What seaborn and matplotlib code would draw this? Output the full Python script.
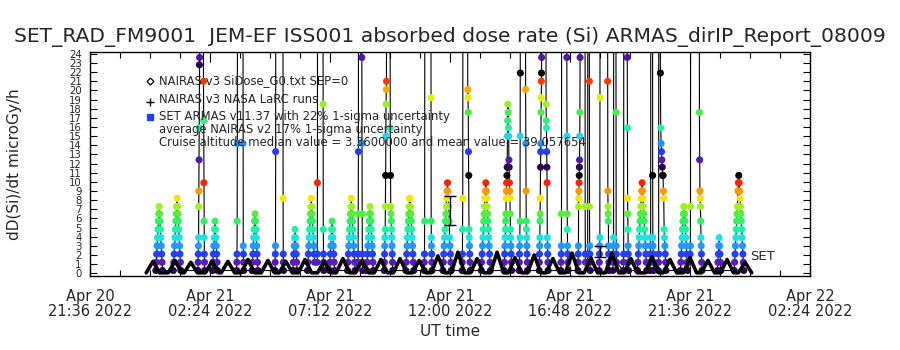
import numpy as np
import pandas as pd
import matplotlib
matplotlib.use("Agg")
import matplotlib.pyplot as plt
import matplotlib.dates as mdates
import matplotlib.ticker as mticker
from matplotlib.colors import LinearSegmentedColormap
import seaborn as sns

# ---------------- data (minutes after 2022-04-21 00:00 UT) ----------------
T0 = pd.Timestamp("2022-04-21 00:00")

# NAIRAS v3 SiDose_G0 (vertices of the orbital dose-rate humps)
nairas_min = [-9, 7, 23, 44, 60, 76, 82, 98, 114, 133, 149, 165, 171, 187, 203,
              219, 235, 251, 267, 283, 299, 310, 326, 342, 356, 372, 388, 402, 418, 434,
              447, 463, 479, 493, 509, 525, 538, 554, 570, 584, 600, 616, 630, 646, 662,
              675, 691, 707, 723, 739, 755, 769, 785, 801, 817, 833, 849, 860, 876, 892,
              906, 922, 938, 951, 967, 983, 997, 1013, 1029, 1042, 1058, 1074,
              1093, 1109, 1125, 1138, 1154, 1170, 1189, 1205, 1221, 1232, 1248, 1264,
              1280, 1296, 1312, 1323, 1339, 1355, 1369, 1385, 1401, 1412, 1428, 1444]
nairas_val = [0.05, 1.3, 0.05, 0.05, 1.4, 0.05, 0.05, 1.2, 0.05, 0.05, 1.3, 0.05, 0.05, 1.3, 0.05,
              0.05, 1.5, 0.05, 0.05, 1.4, 0.05, 0.05, 1.3, 0.05, 0.05, 1.5, 0.05, 0.05, 1.3, 0.05,
              0.05, 1.6, 0.05, 0.05, 1.4, 0.05, 0.05, 1.5, 0.05, 0.05, 1.6, 0.05, 0.05, 1.4, 0.05,
              0.05, 1.9, 0.05, 0.05, 2.3, 0.05, 0.05, 1.6, 0.05, 0.05, 2.3, 0.05, 0.05, 1.7, 0.05,
              0.05, 2.0, 0.05, 0.05, 1.6, 0.05, 0.05, 2.2, 0.05, 0.05, 1.7, 0.05,
              0.05, 2.2, 0.05, 0.05, 1.6, 0.05, 0.05, 1.8, 0.05, 0.05, 1.5, 0.05,
              0.05, 1.7, 0.05, 0.05, 1.4, 0.05, 0.05, 1.5, 0.05, 0.05, 1.2, 0.05]

# NAIRAS v3 NASA LaRC runs with 17% 1-sigma uncertainty
larc_min = [720, 1080]
larc_val = [6.9, 2.4]
larc_err = [1.6, 0.6]

# SET ARMAS passes: start minute, sample step (min), dose-rate values (microGy/h)
armas_start = [14, 56, 115, 128, 150, 208, 223, 245, 300, 319, 343, 378, 401, 415, 431,
               474, 499, 508, 520, 562, 576, 614, 658, 674, 703, 749, 762, 795, 850, 886,
               901, 934, 950, 986, 1000, 1027, 1044, 1050, 1054, 1078, 1098, 1111, 1118,
               1136, 1145, 1170, 1200, 1206, 1220, 1224, 1273, 1296, 1318, 1362, 1402]
armas_step = [1.0, 1.0, 0.4, 0.4, 1.0, 0.4, 0.4, 1.0, 0.4, 0.4, 1.0, 1.0, 0.4, 0.4, 1.0,
              1.0, 0.4, 0.4, 1.0, 0.5, 0.6, 1.0, 0.4, 0.4, 1.0, 0.4, 0.6, 1.0, 0.6, 0.4,
              0.5, 0.4, 0.5, 0.4, 0.4, 0.4, 0.4, 0.4, 0.4, 0.4, 0.4, 0.4, 0.4,
              0.4, 0.4, 1.0, 0.4, 0.4, 0.4, 0.9, 1.0, 0.4, 0.6, 1.0, 1.0]
armas_vals = [
    [0.3, 1.2, 2.1, 3.0, 3.9, 4.8, 5.7, 6.5, 7.3, 6.5, 5.7, 4.8, 3.9, 3.0, 2.1, 1.2, 0.3],
    [0.3, 1.2, 2.1, 3.0, 3.9, 4.8, 5.7, 6.5, 7.3, 8.2, 7.3, 6.5, 5.7, 4.8, 3.9, 3.0, 2.1, 1.2, 0.3],
    [0.3, 1.2, 2.1, 3.0, 3.9, 7.3, 9.0, 12.4, 15.9, 22.8, 23.6, 45],
    [45, 21.0, 16.7, 9.9, 5.7, 3.9, 2.1, 1.2, 0.3],
    [0.3, 1.2, 2.1, 3.0, 3.9, 4.8, 5.7, 4.8, 3.9, 3.0, 2.1, 1.2, 0.3],
    [0.3, 1.2, 2.1, 5.7, 14.2, 40],
    [40, 14.2, 3.0, 2.1, 1.2, 0.3],
    [0.3, 1.2, 2.1, 3.0, 3.9, 4.8, 5.7, 6.5, 5.7, 4.8, 3.9, 3.0, 2.1, 1.2, 0.3],
    [0.3, 1.2, 2.1, 3.0, 13.3, 50],
    [50, 8.2, 2.1, 1.2, 0.3],
    [0.3, 1.2, 2.1, 3.0, 3.9, 4.8, 3.9, 3.0, 2.1, 1.2, 0.3],
    [0.3, 1.2, 2.1, 3.0, 3.9, 4.8, 5.7, 6.5, 7.3, 8.2, 7.3, 6.5, 5.7, 4.8, 3.9, 3.0, 2.1, 1.2],
    [1.2, 2.1, 9.9, 45],
    [45, 18.5, 4.8, 2.1, 1.2, 0.3],
    [0.3, 1.2, 2.1, 3.0, 3.9, 4.8, 5.7, 4.8, 3.9, 3.0, 2.1, 1.2, 0.3],
    [0.3, 1.2, 2.1, 3.0, 3.9, 4.8, 5.7, 6.5, 7.3, 8.2, 7.3, 6.5, 5.7, 4.8, 3.9, 3.0, 2.1, 1.2, 0.3],
    [1.2, 2.1, 6.5, 13.3, 60],
    [60, 23.6, 14.2, 6.5, 2.1, 1.2, 0.3],
    [0.3, 1.2, 2.1, 3.0, 3.9, 4.8, 5.7, 6.5, 7.3, 6.5, 5.7, 4.8, 3.9, 3.0, 2.1, 1.2, 0.3],
    [0.3, 1.2, 2.1, 3.0, 3.9, 4.8, 7.3, 10.7, 15.0, 18.5, 20.1, 21.0, 35],
    [35, 15.9, 10.7, 7.3, 6.5, 5.7, 4.8, 3.9, 3.0, 2.1, 1.2, 0.3],
    [0.3, 1.2, 2.1, 3.0, 3.9, 4.8, 5.7, 6.5, 7.3, 8.2, 8.2, 7.3, 6.5, 5.7, 4.8, 3.9, 3.0, 2.1, 1.2, 0.3],
    [0.3, 1.2, 2.1, 5.7, 40],
    [40, 19.2, 5.7, 3.9, 3.0, 2.1, 1.2, 0.3],
    [0.3, 1.2, 2.1, 3.0, 3.9, 4.8, 5.7, 6.5, 7.3, 8.2, 9.0, 9.9, 9.0, 8.2, 7.3, 5.7, 3.9, 3.0, 2.1, 1.2, 0.3],
    [0.3, 1.2, 2.1, 4.8, 8.2, 40],
    [40, 20.1, 19.2, 17.6, 13.3, 10.7, 4.8, 3.9, 3.0, 2.1, 1.2, 0.3],
    [0.3, 1.2, 2.1, 3.0, 3.9, 4.8, 5.7, 6.5, 7.3, 8.2, 9.0, 9.9, 9.0, 8.2, 7.3, 6.5, 5.7, 4.8, 3.9, 3.0, 2.1, 1.2, 0.3],
    [0.3, 1.2, 2.1, 3.0, 3.9, 4.8, 5.7, 6.5, 8.2, 9.0, 9.9, 10.7, 11.6, 15.0, 16.7, 18.5,
     17.6, 15.9, 15.0, 12.4, 11.6, 9.9, 9.0, 8.2, 6.5, 4.8, 3.9, 3.0, 2.1, 1.2, 0.3],
    [0.3, 1.2, 2.1, 3.0, 3.9, 5.7, 15.0, 21.9, 60],
    [60, 20.1, 14.2, 9.0, 5.7, 4.8, 3.9, 3.0, 2.1, 1.2, 0.3],
    [0.3, 1.2, 2.1, 3.0, 3.9, 5.7, 6.5, 8.2, 11.6, 13.3, 14.2, 17.6, 19.2, 21.0, 21.9, 23.6, 60],
    [60, 18.5, 16.7, 15.9, 13.3, 11.6, 9.9, 3.9, 3.0, 2.1, 1.2, 0.3],
    [0.3, 1.2, 2.1, 3.0, 6.5, 50],
    [50, 23.6, 15.0, 6.5, 4.8, 3.0, 2.1, 1.2, 0.3],
    [0.3, 1.2, 2.1, 3.0, 7.3, 8.2, 9.0, 9.9, 10.7, 11.6, 12.4, 15.0, 17.6, 23.6, 50],
    [50, 7.3, 2.1, 1.2],
    [1.2, 2.1, 45],
    [45, 21.0, 7.3, 3.0, 2.1, 1.2, 0.3],
    [0.3, 1.2, 2.1, 3.0, 3.9, 19.2, 50],
    [50, 21.0, 9.0, 7.3, 6.5, 5.7, 3.0, 2.1, 1.2, 0.3],
    [0.3, 1.2, 2.1, 3.0, 3.9, 50],
    [50, 17.6, 3.0, 2.1, 1.2],
    [0.3, 1.2, 2.1, 50],
    [50, 23.6, 15.9, 8.2, 6.5, 4.8, 3.0, 2.1, 1.2, 0.3],
    [0.3, 1.2, 2.1, 3.0, 3.9, 4.8, 5.7, 6.5, 7.3, 8.2, 9.0, 9.9, 9.0, 8.2, 7.3, 6.5, 5.7, 4.8, 3.9, 3.0, 2.1, 1.2, 0.3],
    [0.3, 1.2, 2.1, 3.0, 3.9, 50],
    [50, 10.7, 3.9, 3.0, 2.1, 1.2, 0.3],
    [0.3, 1.2, 2.1, 50],
    [50, 21.9, 15.9, 14.2, 13.3, 12.4, 11.6, 10.7, 10.7, 9.0, 8.2, 4.8, 3.9, 3.0, 2.1, 1.2, 0.3],
    [0.3, 1.2, 2.1, 3.0, 3.9, 4.8, 5.7, 6.5, 7.3, 7.3, 6.5, 5.7, 4.8, 3.9, 3.0, 2.1, 1.2, 0.3],
    [1.2, 2.1, 3.0, 7.3, 50],
    [50, 17.6, 12.4, 9.0, 8.2, 7.3, 5.7, 3.9, 3.0, 2.1, 1.2, 0.3],
    [0.3, 1.2, 2.1, 3.0, 3.9, 3.0, 2.1, 1.2, 0.3],
    [0.3, 1.2, 2.1, 3.0, 3.9, 4.8, 5.7, 6.5, 7.3, 9.0, 9.9, 10.7, 9.9, 9.0, 8.2, 7.3, 6.5, 5.7, 4.8, 3.9, 3.0, 2.1, 1.2, 0.3],
]

xtick_times = ["2022-04-20 21:36", "2022-04-21 02:24", "2022-04-21 07:12", "2022-04-21 12:00",
               "2022-04-21 16:48", "2022-04-21 21:36", "2022-04-22 02:24"]
ytick_vals = list(range(0, 25))

title = "SET_RAD_FM9001  JEM-EF ISS001 absorbed dose rate (Si) ARMAS_dirIP_Report_08009"
legend_lines = ["NAIRAS v3 SiDose_G0.txt SEP=0",
                "NAIRAS v3 NASA LaRC runs",
                "SET ARMAS v11.37 with 22% 1-sigma uncertainty",
                "average NAIRAS v2 17% 1-sigma uncertainty",
                "Cruise altitude median value = 3.3600000 and mean value = 39.057654"]

# ---------------- build tables ----------------
rows = []
for st, sp, vals in zip(armas_start, armas_step, armas_vals):
    for i, v in enumerate(vals):
        rows.append((T0 + pd.Timedelta(minutes=st + i * sp), v))
armas = pd.DataFrame(rows, columns=["time", "dose"])
# IDL-style cyclic colour index by dose level
armas["cidx"] = (armas["dose"] % 11.28) / 11.28

nairas = pd.DataFrame({"time": [T0 + pd.Timedelta(minutes=m) for m in nairas_min],
                       "dose": nairas_val})
larc = pd.DataFrame({"time": [T0 + pd.Timedelta(minutes=m) for m in larc_min],
                     "dose": larc_val, "err": larc_err})

cmap = LinearSegmentedColormap.from_list("idl", [
    (0.00, "#1a0033"), (0.05, "#3a0a6a"), (0.11, "#5a1ebe"), (0.19, "#2040ff"),
    (0.27, "#209cff"), (0.34, "#20e0e6"), (0.42, "#20f0aa"), (0.50, "#30f068"),
    (0.57, "#48f040"), (0.65, "#a6f020"), (0.72, "#f5f000"), (0.80, "#ff9600"),
    (0.88, "#ff2000"), (0.92, "#000000"), (1.00, "#000000")])

# ---------------- plot ----------------
sns.set_style("ticks")
plt.rcParams["font.family"] = ["DejaVu Sans"]
plt.rcParams["xtick.direction"] = "in"
plt.rcParams["ytick.direction"] = "in"

fig = plt.figure(figsize=(9, 3.5), dpi=100)
ax = fig.add_axes([90 / 900, 1 - 276 / 350, 720 / 900, 224 / 350])

sns.lineplot(data=armas, x="time", y="dose", sort=False, estimator=None,
             color="black", lw=0.8, ax=ax, zorder=2)
sns.scatterplot(data=armas, x="time", y="dose", hue="cidx", palette=cmap,
                hue_norm=(0, 1), s=26, linewidth=0, legend=False, ax=ax, zorder=3)
sns.lineplot(data=nairas, x="time", y="dose", sort=False, estimator=None,
             color="black", lw=2.6, ax=ax, zorder=4)
ax.errorbar(larc["time"], larc["dose"], yerr=larc["err"], fmt="none",
            ecolor="black", elinewidth=0.9, capsize=4, zorder=5)

ax.set_xlim(pd.Timestamp(xtick_times[0]), pd.Timestamp(xtick_times[-1]))
ax.set_ylim(-0.3, 24.2)

ax.xaxis.set_major_locator(mticker.FixedLocator(mdates.date2num(pd.to_datetime(xtick_times))))
ax.xaxis.set_minor_locator(mticker.FixedLocator(mdates.date2num(
    pd.date_range(xtick_times[0], xtick_times[-1], freq="72min"))))
ax.xaxis.set_major_formatter(mdates.DateFormatter("%b %d\n%H:%M %Y"))
ax.set_yticks(ytick_vals)
ax.tick_params(axis="both", which="both", top=True, right=True, color="black")
ax.tick_params(axis="x", which="major", length=7, width=0.8, labelsize=10.5, pad=9)
ax.tick_params(axis="x", which="minor", length=4, width=0.8)
ax.tick_params(axis="y", which="major", length=5, width=0.8, labelsize=7.3, pad=6)
for lab in ax.get_xticklabels():
    lab.set_linespacing(1.0)
for s in ax.spines.values():
    s.set_color("black")
    s.set_linewidth(1.0)

ax.set_xlabel("UT time", fontsize=11)
ax.xaxis.set_label_coords(0.5, -0.215)
ax.set_ylabel("dD(Si)/dt microGy/h", fontsize=11)
ax.yaxis.set_label_coords(-0.095, 0.5)

fig.text(0.5, 1 - 37 / 350, title, ha="center", va="center", fontsize=14.6)

# in-plot legend (IDL style)
ax.plot([0.083], [0.871], marker="D", ms=3.5, mfc="white", mec="black", mew=0.9,
        transform=ax.transAxes, zorder=6)
ax.plot([0.083], [0.778], marker="+", ms=6, color="black", mew=1.0,
        transform=ax.transAxes, zorder=6)
ax.plot([0.083], [0.712], marker="s", ms=4.5, color="#2040ff",
        transform=ax.transAxes, zorder=6)
legend_y = [0.871, 0.786, 0.712, 0.656, 0.598]
for txt, yy in zip(legend_lines, legend_y):
    ax.text(0.096, yy, txt, transform=ax.transAxes, va="center", ha="left",
            fontsize=8.4, zorder=7)
ax.text(0.917, 0.085, "SET", transform=ax.transAxes, va="center", ha="left",
        fontsize=9.5, zorder=7)

fig.savefig("out.png", dpi=100)
